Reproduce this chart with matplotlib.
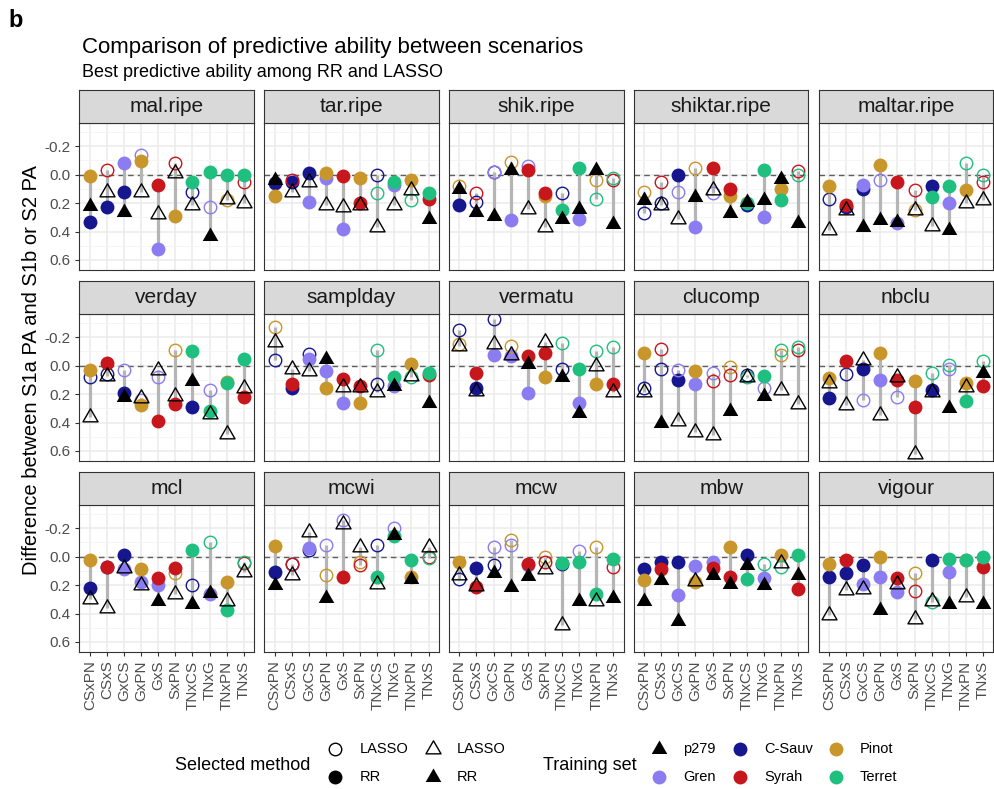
import matplotlib
matplotlib.use("Agg")
import matplotlib.pyplot as plt
from matplotlib.path import Path

plt.rcParams['font.family'] = ['Liberation Sans', 'DejaVu Sans']

# crosses (x axis) and the two parental training sets of each cross
crosses = ["CSxPN", "CSxS", "GxCS", "GxPN", "GxS", "SxPN", "TNxCS", "TNxG", "TNxPN", "TNxS"]
parent1 = ["C-Sauv", "C-Sauv", "Gren", "Gren", "Gren", "Syrah", "Terret", "Terret", "Terret", "Terret"]
parent2 = ["Pinot", "Syrah", "C-Sauv", "Pinot", "Syrah", "Pinot", "C-Sauv", "Gren", "Pinot", "Syrah"]

traits = ["mal.ripe", "tar.ripe", "shik.ripe", "shiktar.ripe", "maltar.ripe",
          "verday", "samplday", "vermatu", "clucomp", "nbclu",
          "mcl", "mcwi", "mcw", "mbw", "vigour"]

# values: p279 / parent1 / parent2 ; methods: R = RR, L = LASSO
mal_ripe_p279 = [0.22, 0.12, 0.26, 0.12, 0.28, -0.015, 0.21, 0.43, 0.17, 0.20]
mal_ripe_par1 = [0.33, 0.23, -0.08, -0.14, 0.52, -0.08, 0.05, -0.02, 0.0, 0.0]
mal_ripe_par2 = [0.01, -0.03, 0.12, -0.095, 0.07, 0.29, 0.12, 0.23, 0.18, 0.05]
mal_ripe_meth = ["RLRLLLLRLL", "RRRLRLRRRR", "RLRRRRLLLL"]

tar_ripe_p279 = [0.04, 0.12, 0.05, 0.21, 0.23, 0.21, 0.37, 0.21, 0.11, 0.31]
tar_ripe_par1 = [0.06, 0.05, 0.19, 0.02, 0.38, 0.20, 0.13, 0.05, 0.18, 0.13]
tar_ripe_par2 = [0.15, 0.04, -0.01, -0.01, 0.01, 0.02, 0.0, 0.07, 0.04, 0.17]
tar_ripe_meth = ["RLLLLLLLLR", "RRRRRRLRLR", "RLRRRRLRRR"]

shik_ripe_p279 = [0.10, 0.26, 0.29, -0.03, 0.24, 0.37, 0.31, 0.24, -0.035, 0.35]
shik_ripe_par1 = [0.21, 0.19, -0.02, 0.32, -0.06, 0.13, 0.25, -0.05, 0.17, 0.02]
shik_ripe_par2 = [0.08, 0.13, -0.02, -0.09, -0.035, 0.15, 0.13, 0.31, 0.035, 0.04]
shik_ripe_meth = ["RRRRLLRRRR", "RLLRLRRRLL", "LLLLRRLRLL"]

shiktar_ripe_p279 = [0.18, 0.21, 0.31, 0.16, 0.11, 0.27, 0.19, 0.18, 0.03, 0.34]
shiktar_ripe_par1 = [0.27, 0.20, 0.12, 0.37, 0.13, 0.10, 0.20, -0.03, 0.18, 0.005]
shiktar_ripe_par2 = [0.12, 0.05, 0.0, -0.05, -0.05, 0.15, 0.21, 0.30, 0.10, -0.025]
shiktar_ripe_meth = ["RLLRLRRRRR", "LLLRLRRRRL", "LLRLRRRRRL"]

maltar_ripe_p279 = [0.39, 0.25, 0.37, 0.32, 0.33, 0.25, 0.36, 0.39, 0.20, 0.18]
maltar_ripe_par1 = [0.17, 0.23, 0.07, 0.035, 0.34, 0.11, 0.16, 0.08, -0.08, 0.0]
maltar_ripe_par2 = [0.08, 0.21, 0.10, -0.07, 0.05, 0.25, 0.08, 0.20, 0.11, 0.055]
maltar_ripe_meth = ["LLRRRLLRLL", "LRRLRLRRLL", "RRRRRLRRRL"]

verday_p279 = [0.36, 0.07, 0.22, 0.23, 0.03, 0.21, 0.11, 0.34, 0.48, 0.155]
verday_par1 = [0.08, 0.06, 0.03, 0.24, 0.08, 0.27, -0.10, 0.32, 0.12, -0.045]
verday_par2 = [0.03, -0.02, 0.19, 0.28, 0.39, -0.11, 0.29, 0.17, 0.115, 0.22]
verday_meth = ["LLRLLLRLLL", "LLLLLRRRRR", "RRRRRLRLRR"]

samplday_p279 = [-0.17, 0.02, 0.035, -0.05, 0.15, 0.15, 0.185, 0.145, 0.07, 0.26]
samplday_par1 = [-0.04, 0.16, -0.05, 0.035, 0.26, 0.145, -0.11, 0.08, 0.08, 0.05]
samplday_par2 = [-0.27, 0.13, -0.08, 0.155, 0.095, 0.26, 0.13, 0.145, -0.01, 0.065]
samplday_meth = ["LLLRLLLRLR", "LRRRRRLRLR", "LRLRRRLRRR"]

vermatu_p279 = [-0.14, 0.18, -0.155, -0.075, -0.015, -0.165, 0.08, 0.33, 0.005, 0.185]
vermatu_par1 = [-0.25, 0.155, -0.075, -0.07, 0.19, -0.09, -0.16, 0.02, -0.10, -0.13]
vermatu_par2 = [-0.155, 0.05, -0.325, -0.14, -0.065, 0.08, 0.02, 0.26, 0.13, 0.13]
vermatu_meth = ["LLLLRLRRLL", "LRRRRRLRLL", "LRLLRRLRRR"]

clucomp_p279 = [0.185, 0.40, 0.39, 0.47, 0.49, 0.32, 0.08, 0.21, 0.17, 0.27]
clucomp_par1 = [0.16, 0.025, 0.03, 0.13, 0.05, 0.065, 0.08, 0.07, -0.11, -0.13]
clucomp_par2 = [-0.09, -0.12, 0.10, 0.035, 0.11, 0.01, 0.065, 0.16, -0.075, -0.11]
clucomp_meth = ["LRLLLRLRLL", "LLLRLLLRLL", "RLRRLLLLLL"]

nbclu_p279 = [0.125, 0.28, -0.04, 0.345, 0.08, 0.62, 0.185, 0.30, 0.15, 0.05]
nbclu_par1 = [0.225, 0.06, 0.24, 0.10, 0.22, 0.29, 0.05, -0.005, 0.25, -0.035]
nbclu_par2 = [0.09, -0.035, 0.025, -0.09, 0.10, 0.11, 0.17, 0.02, 0.125, 0.145]
nbclu_meth = ["LLLLLLLRLR", "RLLRLRLLRL", "RRRRRRRLRR"]

mcl_p279 = [0.30, 0.36, 0.08, 0.20, 0.31, 0.26, 0.335, 0.255, 0.31, 0.11]
mcl_par1 = [0.22, 0.07, 0.09, 0.175, 0.20, 0.08, -0.045, -0.10, 0.375, 0.04]
mcl_par2 = [0.02, 0.075, -0.015, 0.085, 0.15, 0.115, 0.20, 0.265, 0.18, 0.045]
mcl_meth = ["LLLLRLRRLL", "RRRRRRRLRL", "RRRRRLLRRL"]

mcwi_p279 = [0.20, 0.13, -0.175, 0.29, -0.23, -0.07, 0.195, -0.15, 0.16, -0.07]
mcwi_par1 = [0.11, 0.055, -0.06, -0.085, -0.255, 0.06, 0.145, -0.145, 0.02, 0.01]
mcwi_par2 = [-0.075, 0.05, -0.05, 0.13, 0.14, 0.035, -0.08, -0.205, 0.145, 0.0]
mcwi_meth = ["RLLRLLLRRL", "RLRLLLRRRL", "RLLLRLLLRL"]

mcw_p279 = [0.13, 0.205, 0.115, 0.215, 0.135, 0.085, 0.48, 0.31, 0.31, 0.29]
mcw_par1 = [0.155, 0.08, -0.07, -0.085, 0.06, 0.04, 0.045, 0.04, 0.26, 0.015]
mcw_par2 = [0.04, 0.21, 0.06, -0.115, 0.05, 0.0, 0.05, -0.04, -0.065, 0.075]
mcw_meth = ["LLRRRLLRLR", "LRLLRLRRRR", "RRLLRLLLLL"]

mbw_p279 = [0.31, 0.165, 0.455, 0.17, 0.13, 0.19, 0.06, 0.20, 0.045, 0.13]
mbw_par1 = [0.085, 0.04, 0.27, 0.065, 0.035, 0.145, 0.16, 0.05, 0.075, -0.015]
mbw_par2 = [0.165, 0.085, 0.04, 0.18, 0.08, -0.07, -0.015, 0.15, -0.015, 0.23]
mbw_meth = ["RRRLRRRRLR", "RRRRRRRLLR", "RRRRRRRRRR"]

vigour_p279 = [0.41, 0.235, 0.225, 0.375, 0.19, 0.44, 0.31, 0.335, 0.285, 0.335]
vigour_par1 = [0.14, 0.115, 0.19, 0.14, 0.25, 0.24, 0.32, 0.015, 0.02, 0.0]
vigour_par2 = [0.055, 0.02, 0.06, 0.0, 0.15, 0.115, 0.02, 0.11, 0.02, 0.075]
vigour_meth = ["LLLRLLLRLR", "RRRRRLLRRR", "RRRRRLRRRR"]

data = {
    "mal.ripe": (mal_ripe_p279, mal_ripe_par1, mal_ripe_par2, mal_ripe_meth),
    "tar.ripe": (tar_ripe_p279, tar_ripe_par1, tar_ripe_par2, tar_ripe_meth),
    "shik.ripe": (shik_ripe_p279, shik_ripe_par1, shik_ripe_par2, shik_ripe_meth),
    "shiktar.ripe": (shiktar_ripe_p279, shiktar_ripe_par1, shiktar_ripe_par2, shiktar_ripe_meth),
    "maltar.ripe": (maltar_ripe_p279, maltar_ripe_par1, maltar_ripe_par2, maltar_ripe_meth),
    "verday": (verday_p279, verday_par1, verday_par2, verday_meth),
    "samplday": (samplday_p279, samplday_par1, samplday_par2, samplday_meth),
    "vermatu": (vermatu_p279, vermatu_par1, vermatu_par2, vermatu_meth),
    "clucomp": (clucomp_p279, clucomp_par1, clucomp_par2, clucomp_meth),
    "nbclu": (nbclu_p279, nbclu_par1, nbclu_par2, nbclu_meth),
    "mcl": (mcl_p279, mcl_par1, mcl_par2, mcl_meth),
    "mcwi": (mcwi_p279, mcwi_par1, mcwi_par2, mcwi_meth),
    "mcw": (mcw_p279, mcw_par1, mcw_par2, mcw_meth),
    "mbw": (mbw_p279, mbw_par1, mbw_par2, mbw_meth),
    "vigour": (vigour_p279, vigour_par1, vigour_par2, vigour_meth),
}

colours = {"p279": "black", "C-Sauv": "#16168f", "Gren": "#8b7cf2",
           "Syrah": "#c8161d", "Pinot": "#c8962a", "Terret": "#1fbf7f"}
circle_order = ["C-Sauv", "Gren", "Pinot", "Syrah", "Terret"]

tri = Path([(0, 1), (-0.866, -0.5), (0.866, -0.5), (0, 1)],
           [Path.MOVETO, Path.LINETO, Path.LINETO, Path.CLOSEPOLY])


def draw_point(ax, x, y, marker, col, meth, zo):
    if marker == "o":
        if meth == "R":
            ax.plot(x, y, marker="o", ms=10, mfc=col, mec="none", mew=0, zorder=zo)
        else:
            ax.plot(x, y, marker="o", ms=9, mfc="none", mec=col, mew=1.0, zorder=zo)
    else:
        if meth == "R":
            ax.plot(x, y, marker=tri, ms=13, mfc=col, mec="none", mew=0, zorder=zo)
        else:
            ax.plot(x, y, marker=tri, ms=12.5, mfc="none", mec=col, mew=1.0, zorder=zo)


W, H = 995, 789
fig = plt.figure(figsize=(W / 100, H / 100), dpi=100)


def rect(l, t, w, h):
    return [l / W, 1 - (t + h) / H, w / W, h / H]


pw, ph, sh = 174.5, 147, 33
for k, trait in enumerate(traits):
    r, c = divmod(k, 5)
    left = 79.5 + c * 184.8
    top = 122.5 + r * 191
    ax = fig.add_axes(rect(left, top, pw, ph))
    sax = fig.add_axes(rect(left, top - sh, pw, sh))

    sax.set_facecolor("#d9d9d9")
    sax.set_xticks([])
    sax.set_yticks([])
    for s in sax.spines.values():
        s.set_color("#333333")
        s.set_linewidth(0.8)
    sax.text(0.5, 0.47, trait, ha="center", va="center", fontsize=15,
             color="#1a1a1a", transform=sax.transAxes)

    p279, par1, par2, meth = data[trait]
    for i in range(len(crosses)):
        vals = [p279[i], par1[i], par2[i]]
        ax.vlines(i, min(vals), max(vals), color="#b5b5b5", lw=2.3, zorder=2)
    ax.axhline(0, color="#5e5e5e", lw=1.0, ls=(0, (4, 3)), zorder=1.8)

    for zi, setname in enumerate(circle_order):
        for i in range(len(crosses)):
            if parent1[i] == setname:
                draw_point(ax, i, par1[i], "o", colours[setname], meth[1][i], 3 + zi * 0.1)
            if parent2[i] == setname:
                draw_point(ax, i, par2[i], "o", colours[setname], meth[2][i], 3 + zi * 0.1)
    for i in range(len(crosses)):
        draw_point(ax, i, p279[i], "^", "black", meth[0][i], 4)

    ax.set_xlim(-0.6, len(crosses) - 0.4)
    ax.set_ylim(0.667, -0.367)
    ax.set_xticks(range(len(crosses)))
    ax.set_yticks([-0.2, 0.0, 0.2, 0.4, 0.6])
    ax.set_yticks([-0.3, -0.1, 0.1, 0.3, 0.5], minor=True)
    ax.grid(which="major", color="#ebebeb", lw=1.1)
    ax.grid(which="minor", axis="y", color="#f4f4f4", lw=0.6)
    ax.set_axisbelow(True)
    for s in ax.spines.values():
        s.set_color("#333333")
        s.set_linewidth(0.8)
    ax.tick_params(which="minor", left=False)
    ax.tick_params(which="major", length=3, width=0.8, color="#333333",
                   labelsize=11, labelcolor="#4d4d4d")
    if c == 0:
        ax.set_yticklabels(["-0.2", "0.0", "0.2", "0.4", "0.6"])
    else:
        ax.tick_params(left=False, labelleft=False)
    if r == 2:
        ax.set_xticklabels(crosses, rotation=90, ha="center", va="top")
    else:
        ax.tick_params(bottom=False, labelbottom=False)

# overlay in pixel coordinates for titles and legend
ov = fig.add_axes([0, 0, 1, 1], facecolor="none")
ov.set_xlim(0, W)
ov.set_ylim(H, 0)
ov.axis("off")

ov.text(8, 20, "b", fontsize=17, fontweight="bold", va="center", ha="left")
ov.text(82, 53, "Comparison of predictive ability between scenarios", fontsize=16,
        va="baseline", ha="left", color="black")
ov.text(82, 77, "Best predictive ability among RR and LASSO", fontsize=13,
        va="baseline", ha="left", color="black")
ov.text(32, 370, "Difference between S1a PA and S1b or S2 PA", fontsize=14.5,
        rotation=90, va="center", ha="center")

# legend: selected method
ov.text(175, 765, "Selected method", fontsize=13, va="center", ha="left")
draw_point(ov, 335, 749, "o", "black", "L", 5)
draw_point(ov, 335, 777, "o", "black", "R", 5)
draw_point(ov, 433, 749, "^", "black", "L", 5)
draw_point(ov, 433, 777, "^", "black", "R", 5)
for xx, yy, lab in [(360, 749, "LASSO"), (360, 777, "RR"), (457, 749, "LASSO"), (457, 777, "RR")]:
    ov.text(xx, yy, lab, fontsize=10.5, va="center", ha="left")

# legend: training set
ov.text(543, 765, "Training set", fontsize=13, va="center", ha="left")
legend_sets = [("p279", 659, 749), ("C-Sauv", 740, 749), ("Pinot", 836, 749),
               ("Gren", 659, 777), ("Syrah", 740, 777), ("Terret", 836, 777)]
for name, xx, yy in legend_sets:
    draw_point(ov, xx, yy, "^" if name == "p279" else "o", colours[name], "R", 5)
    ov.text(xx + 24, yy, name, fontsize=10.5, va="center", ha="left")

fig.savefig("out.png", dpi=100)
